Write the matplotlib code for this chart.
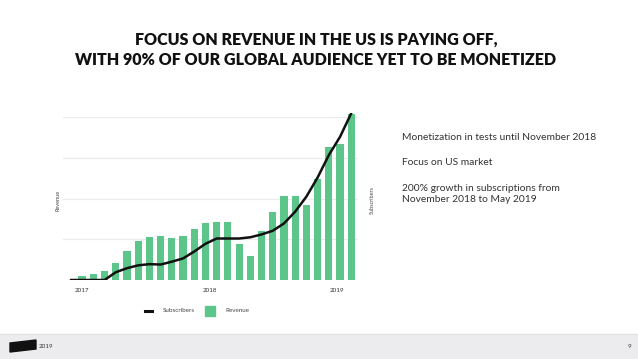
import matplotlib.pyplot as plt
import matplotlib.patches as mpatches
import numpy as np

plt.rcParams['font.family'] = ['Lato', 'DejaVu Sans']

# monthly values, in gridline units (0..4)
months = list(range(26))
revenue = [0.0, 0.11, 0.15, 0.22, 0.43, 0.72, 0.95, 1.06, 1.07, 1.04, 1.07, 1.25, 1.40,
           1.43, 1.43, 0.89, 0.59, 1.20, 1.68, 2.06, 2.07, 1.84, 2.48, 3.28, 3.34, 4.09]
subscribers = [0.0, 0.0, 0.0, 0.0, 0.19, 0.29, 0.36, 0.39, 0.38, 0.45, 0.53, 0.70, 0.89,
               1.02, 1.02, 1.02, 1.05, 1.12, 1.21, 1.39, 1.68, 2.05, 2.52, 3.07, 3.52, 4.10]
year_ticks = [1, 12.4, 23.7]
year_labels = ['2017', '2018', '2019']

notes = ['Monetization in tests until November 2018',
         'Focus on US market',
         '200% growth in subscriptions from\nNovember 2018 to May 2019']

green = '#5cc68a'

fig = plt.figure(figsize=(6.38, 3.59), dpi=100)
W, H = 638, 359

ax = fig.add_axes([63 / W, 1 - 280 / H, (358 - 63) / W, (280 - 113.2) / H])
for g in [1, 2, 3, 4]:
    ax.axhline(g, color='#ebebeb', lw=0.8, zorder=0)
ax.axhline(0, color='#dcdcdc', lw=0.8, zorder=0)
ax.bar(months, revenue, width=0.64, color=green, zorder=2)
ax.plot(months, subscribers, color='#111111', lw=1.8, zorder=3, solid_capstyle='round')
ax.set_xlim(-0.7, 25.6)
ax.set_ylim(0, 4.1)
ax.set_yticks([])
ax.set_xticks(year_ticks)
ax.set_xticklabels(year_labels, fontsize=4.5, color='#333333')
ax.tick_params(axis='x', length=0, pad=6)
for s in ax.spines.values():
    s.set_visible(False)

fig.text(58 / W, 1 - 200 / H, 'Revenue', rotation=90, fontsize=4, color='#444444',
         ha='center', va='center')
fig.text(372 / W, 1 - 200 / H, 'Subscribers', rotation=90, fontsize=4, color='#444444',
         ha='center', va='center')

# title
fig.text(316 / W, 1 - 40 / H, 'FOCUS ON REVENUE IN THE US IS PAYING OFF,',
         fontsize=11.5, fontweight='heavy', ha='center', va='center', color='#111111')
fig.text(316 / W, 1 - 60 / H, 'WITH 90% OF OUR GLOBAL AUDIENCE YET TO BE MONETIZED',
         fontsize=11.5, fontweight='heavy', ha='center', va='center', color='#111111')

# notes
fig.text(402 / W, 1 - 137 / H, notes[0], fontsize=7.4, color='#333333', va='center')
fig.text(402 / W, 1 - 162 / H, notes[1], fontsize=7.4, color='#333333', va='center')
fig.text(402 / W, 1 - 194 / H, notes[2], fontsize=7.4, color='#333333', va='center',
         linespacing=1.25)

# legend
fig.add_artist(plt.Line2D([145 / W, 152 / W], [1 - 311 / H, 1 - 311 / H],
                          color='#111111', lw=2.2))
fig.text(163 / W, 1 - 311 / H, 'Subscribers', fontsize=4.5, color='#444444', va='center')
fig.add_artist(mpatches.Rectangle((205 / W, 1 - 316 / H), 10 / W, 10 / H,
                                  transform=fig.transFigure, color=green))
fig.text(225 / W, 1 - 311 / H, 'Revenue', fontsize=4.5, color='#444444', va='center')

# footer band
fig.add_artist(mpatches.Rectangle((0, 0), 1, 25 / H, transform=fig.transFigure,
                                  color='#ececee', zorder=0))
fig.add_artist(plt.Line2D([0, 1], [25 / H, 25 / H], color='#dedee0', lw=0.6))
fig.add_artist(mpatches.Polygon([(10 / W, 1 - 352 / H), (36 / W, 1 - 349 / H),
                                 (36 / W, 1 - 340 / H), (10 / W, 1 - 343 / H)],
                                closed=True, transform=fig.transFigure,
                                color='#111111'))
fig.text(39 / W, 1 - 347 / H, '2019', fontsize=4.5, color='#333333', va='center')
fig.text(629 / W, 1 - 347 / H, '9', fontsize=4.5, color='#333333', va='center',
         ha='center')

fig.savefig('out.png', dpi=100)
